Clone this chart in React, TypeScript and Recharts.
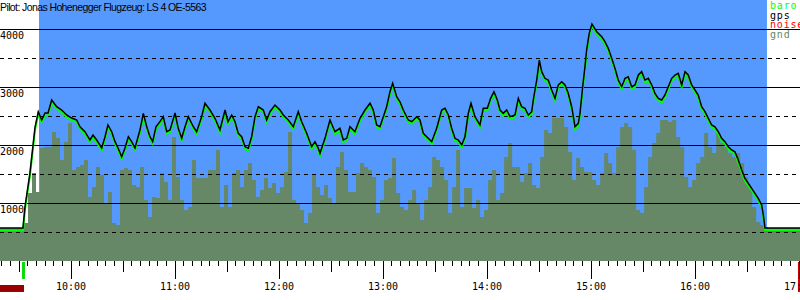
import React from 'react';
import { ComposedChart, Line, Area, XAxis, YAxis, ReferenceLine, ReferenceArea } from 'recharts';

// Flight track: time (decimal hours) with GPS and barometric altitude (m)
const trackTime = [
  9.317, 9.529, 9.538, 9.557, 9.605, 9.654, 9.685, 9.718, 9.750, 9.779,
  9.814, 9.862, 9.910, 9.958, 10.006, 10.055, 10.086, 10.134, 10.182, 10.211,
  10.247, 10.295, 10.327, 10.355, 10.391, 10.423, 10.452, 10.487, 10.519, 10.551,
  10.583, 10.615, 10.663, 10.695, 10.728, 10.759, 10.785, 10.817, 10.855, 10.887,
  10.920, 10.952, 11.000, 11.031, 11.064, 11.096, 11.128, 11.176, 11.208, 11.256,
  11.288, 11.336, 11.384, 11.432, 11.481, 11.509, 11.545, 11.577, 11.608, 11.641,
  11.673, 11.705, 11.737, 11.769, 11.801, 11.849, 11.881, 11.913, 11.961, 12.009,
  12.041, 12.089, 12.137, 12.185, 12.218, 12.266, 12.314, 12.346, 12.378, 12.394,
  12.442, 12.490, 12.538, 12.586, 12.618, 12.651, 12.682, 12.730, 12.779, 12.827,
  12.875, 12.906, 12.939, 12.971, 13.003, 13.035, 13.067, 13.093, 13.131, 13.163,
  13.195, 13.243, 13.276, 13.324, 13.355, 13.387, 13.420, 13.468, 13.516, 13.564,
  13.596, 13.628, 13.660, 13.692, 13.724, 13.757, 13.788, 13.820, 13.846, 13.884,
  13.932, 13.964, 14.003, 14.035, 14.067, 14.099, 14.125, 14.156, 14.189, 14.221,
  14.269, 14.301, 14.333, 14.365, 14.397, 14.430, 14.445, 14.478, 14.503, 14.526,
  14.557, 14.589, 14.622, 14.654, 14.685, 14.718, 14.750, 14.781, 14.814, 14.846,
  14.878, 14.894, 14.920, 14.942, 14.958, 14.983, 15.009, 15.055, 15.103, 15.134,
  15.166, 15.199, 15.230, 15.262, 15.295, 15.327, 15.358, 15.391, 15.423, 15.455,
  15.487, 15.519, 15.551, 15.584, 15.615, 15.647, 15.680, 15.711, 15.743, 15.776,
  15.808, 15.839, 15.872, 15.904, 15.935, 15.968, 16.000, 16.031, 16.064, 16.096,
  16.128, 16.160, 16.192, 16.224, 16.256, 16.288, 16.320, 16.353, 16.384, 16.416,
  16.449, 16.480, 16.512, 16.545, 16.577, 16.608, 16.641, 16.657, 16.673, 17.010,
];

const gpsAlt = [
  569, 569, 569, 931, 1517, 2310, 2574, 2431, 2552, 2552,
  2776, 2660, 2603, 2517, 2465, 2431, 2315, 2229, 2086, 2172,
  2086, 1948, 2143, 2345, 2229, 2057, 1948, 1798, 1948, 2143,
  2057, 1948, 2258, 2546, 2315, 2143, 2057, 2315, 2402, 2488,
  2229, 2258, 2552, 2288, 2115, 2315, 2488, 2315, 2229, 2488,
  2719, 2603, 2460, 2258, 2603, 2402, 2517, 2402, 2202, 2143,
  1971, 1943, 2143, 2488, 2660, 2603, 2431, 2574, 2689, 2603,
  2517, 2431, 2315, 2574, 2402, 2202, 1971, 2057, 1943, 1857,
  2115, 2431, 2229, 2288, 2086, 2115, 2315, 2229, 2460, 2603,
  2719, 2603, 2345, 2315, 2488, 2660, 2919, 3064, 2833, 2746,
  2603, 2431, 2402, 2488, 2431, 2202, 2143, 2057, 2288, 2603,
  2633, 2517, 2288, 2115, 2086, 2000, 2143, 2546, 2719, 2488,
  2345, 2633, 2633, 2805, 2919, 2776, 2603, 2546, 2603, 2488,
  2517, 2805, 2660, 2633, 2517, 2574, 2776, 3120, 3465, 3264,
  3150, 3120, 2948, 2805, 3034, 3091, 3034, 2891, 2660, 2315,
  2374, 2546, 3005, 3350, 3638, 3926, 4086, 3953, 3867, 3781,
  3667, 3495, 3322, 3120, 3005, 3150, 3177, 3005, 3034, 3207,
  3264, 3120, 3150, 3034, 2891, 2805, 2776, 2862, 3005, 3150,
  3207, 3236, 3034, 3264, 3207, 3034, 2948, 2862, 2660, 2574,
  2460, 2345, 2315, 2229, 2115, 2057, 1971, 1914, 1884, 1741,
  1569, 1426, 1340, 1253, 1167, 1081, 965, 793, 569, 569,
];

const baroAlt = [
  526, 526, 526, 880, 1470, 2260, 2530, 2390, 2510, 2515,
  2730, 2625, 2565, 2480, 2425, 2395, 2280, 2190, 2050, 2135,
  2045, 1910, 2100, 2305, 2190, 2020, 1910, 1760, 1905, 2100,
  2020, 1915, 2215, 2505, 2280, 2105, 2020, 2270, 2360, 2450,
  2195, 2220, 2510, 2250, 2080, 2270, 2450, 2280, 2190, 2445,
  2680, 2570, 2420, 2220, 2560, 2365, 2480, 2365, 2165, 2105,
  1935, 1900, 2100, 2445, 2620, 2570, 2395, 2535, 2650, 2565,
  2480, 2395, 2275, 2530, 2365, 2165, 1935, 2020, 1905, 1815,
  2075, 2390, 2190, 2250, 2050, 2075, 2275, 2190, 2420, 2565,
  2680, 2565, 2305, 2280, 2450, 2620, 2875, 3020, 2795, 2705,
  2565, 2395, 2365, 2450, 2395, 2165, 2105, 2020, 2250, 2565,
  2595, 2480, 2250, 2075, 2050, 1960, 2105, 2505, 2680, 2450,
  2305, 2595, 2595, 2765, 2880, 2740, 2565, 2505, 2565, 2450,
  2480, 2765, 2620, 2595, 2480, 2535, 2730, 3075, 3420, 3225,
  3110, 3080, 2910, 2765, 2995, 3050, 2995, 2850, 2620, 2275,
  2330, 2500, 2960, 3300, 3590, 3880, 4045, 3915, 3825, 3740,
  3625, 3455, 3285, 3080, 2965, 3110, 3140, 2965, 2995, 3165,
  3225, 3080, 3110, 2995, 2850, 2765, 2735, 2820, 2965, 3110,
  3165, 3195, 2995, 3225, 3165, 2995, 2910, 2820, 2620, 2535,
  2420, 2305, 2275, 2190, 2075, 2020, 1930, 1875, 1845, 1700,
  1530, 1385, 1300, 1215, 1125, 1040, 925, 750, 534, 534,
];

// Terrain elevation below the track, sampled at a fixed interval
const gndStartHour = 9.317;
const gndStepSeconds = 138.5;
const gndAlt = [
  569, 569, 569, 569, 569,
  569, 655, 1172, 1517, 1190, 1948, 1965, 1965, 2224, 2121,
  1741, 2052, 2379, 1569, 1621, 1655, 1741, 1103, 1276, 1621,
  1483, 1000, 1190, 655, 621, 1569, 1603, 1569, 1310, 1276,
  1621, 1052, 759, 1103, 1086, 1517, 1362, 1052, 2138, 1448,
  1052, 879, 931, 1741, 1431, 1431, 1431, 1569, 1569, 1914,
  931, 1310, 931, 1517, 1569, 1276, 1569, 1690, 1396, 1103,
  1224, 1431, 1259, 1345, 1172, 1276, 1534, 2224, 1052, 1000,
  879, 655, 828, 1483, 1276, 1138, 1310, 1086, 1000, 1621,
  1879, 1569, 1190, 1190, 1517, 1690, 1621, 1569, 1448, 828,
  1052, 1396, 1431, 1776, 1172, 931, 879, 1052, 1224, 1000,
  707, 1052, 1276, 1793, 1741, 1621, 1396, 828, 1276, 1914,
  931, 1259, 1259, 914, 1052, 759, 879, 1396, 1569, 1052,
  1172, 1793, 2034, 1621, 1621, 1362, 1517, 1690, 1310, 1259,
  1793, 2258, 2207, 2465, 2465, 2465, 2310, 1879, 1396, 1776,
  1621, 1534, 1534, 1396, 1310, 1517, 1862, 1690, 1517, 1965,
  2310, 2379, 2310, 1914, 879, 828, 1276, 1793, 2034, 2207,
  2431, 2431, 2396, 2431, 2138, 1965, 1448, 1276, 1396, 1690,
  1793, 2207, 1965, 1862, 2207, 2034, 1965, 1862, 1793, 1862,
  1690, 1448, 1276, 931, 672, 621, 586, 569,
  569, 569, 569, 569, 569, 569, 569, 569,
];

const solidLevels = [1000, 2000, 3000, 4000];
const dashedLevels = [500, 1500, 2500, 3500];
const altLabels = [1000, 2000, 3000, 4000];
const altDomain = [0, 4500];
const timeDomain = [9.317, 17.0096];
const tickStartMin = 560;
const tickEndMin = 1020;
const tickEveryMin = 5;

const skyWindow = { from: 9.692, to: 16.692 };
const takeoffMark = { from: 9.529, to: 9.557 };
const logBar = { from: 9.317, to: 9.548 };
const endMark = { from: 16.99, to: 17.02 };

const title = 'Pilot: Jonas Hohenegger Flugzeug: LS 4 OE-5563';
const legendItems = [
  { name: 'baro', color: '#00ff00' },
  { name: 'gps', color: '#000000' },
  { name: 'noise', color: '#ff0000' },
  { name: 'gnd', color: '#668866' },
];

const trackData = trackTime.map((h, i) => ({ h, gps: gpsAlt[i], baro: baroAlt[i] }));
const gndData = gndAlt.map((v, i) => ({ h: gndStartHour + (i * gndStepSeconds) / 3600, gnd: v }));
const timeTicks: number[] = [];
for (let m = tickStartMin; m <= tickEndMin; m += tickEveryMin) timeTicks.push(m / 60);

const MONO = '"DejaVu Sans Mono", monospace';

const TimeTick = (props: any) => {
  const { x, y, payload } = props;
  const mins = Math.round(payload.value * 60);
  const isHour = mins % 60 === 0;
  const isHalf = mins % 30 === 0;
  const len = isHour ? 18 : isHalf ? 11 : 5;
  return (
    <g>
      <line x1={x} x2={x} y1={y} y2={y + len} stroke="#000" strokeWidth={1} shapeRendering="crispEdges" />
      {isHour && (
        <text x={x} y={y + 29} textAnchor="middle" fontFamily={MONO} fontSize={10} fill="#000">
          {`${mins / 60}:00`}
        </text>
      )}
    </g>
  );
};

const AltTick = (props: any) => {
  const { y, payload } = props;
  return (
    <text x={0} y={y + 10} textAnchor="start" fontFamily={MONO} fontSize={10} fill="#000">
      {payload.value}
    </text>
  );
};

export default function App() {
  return (
    <div style={{ position: 'absolute', left: 0, top: 0, width: 800, height: 300, background: '#fff' }}>
      <ComposedChart width={800} height={300} margin={{ top: 0, right: 0, bottom: 0, left: 0 }}>
        <XAxis
          type="number"
          dataKey="h"
          domain={timeDomain}
          allowDataOverflow
          ticks={timeTicks}
          interval={0}
          tick={<TimeTick />}
          tickLine={false}
          axisLine={false}
          tickSize={0}
          tickMargin={0}
          height={39}
        />
        <YAxis
          type="number"
          domain={altDomain}
          allowDataOverflow
          ticks={altLabels}
          interval={0}
          tick={<AltTick />}
          tickLine={false}
          axisLine={false}
          tickSize={0}
          tickMargin={0}
          mirror
          width={40}
          zIndex={700}
        />
        <ReferenceArea
          x1={skyWindow.from}
          x2={skyWindow.to}
          y1={altDomain[0]}
          y2={altDomain[1]}
          fill="#5599ff"
          fillOpacity={1}
          stroke="none"
          zIndex={10}
        />
        <Area
          data={gndData}
          dataKey="gnd"
          type="stepAfter"
          fill="#668866"
          fillOpacity={1}
          stroke="none"
          dot={false}
          activeDot={false}
          isAnimationActive={false}
          baseValue={0}
          zIndex={20}
        />
        {dashedLevels.map((v) => (
          <ReferenceLine key={'d' + v} y={v} stroke="#000" strokeWidth={1} strokeDasharray="4 4" shapeRendering="crispEdges" zIndex={30} />
        ))}
        {solidLevels.map((v) => (
          <ReferenceLine key={'s' + v} y={v} stroke="#000" strokeWidth={1} shapeRendering="crispEdges" zIndex={30} />
        ))}
        <Line
          data={trackData}
          dataKey="baro"
          type="linear"
          stroke="#00ff00"
          strokeWidth={2}
          dot={false}
          activeDot={false}
          isAnimationActive={false}
          zIndex={40}
        />
        <Line
          data={trackData}
          dataKey="gps"
          type="linear"
          stroke="#000000"
          strokeWidth={1.5}
          dot={false}
          activeDot={false}
          isAnimationActive={false}
          zIndex={50}
        />
        <ReferenceArea x1={takeoffMark.from} x2={takeoffMark.to} y1={-17} y2={-310} fill="#00dd00" fillOpacity={1} stroke="none" ifOverflow="visible" zIndex={600} />
        <ReferenceArea x1={logBar.from} x2={logBar.to} y1={-414} y2={-534} fill="#990000" fillOpacity={1} stroke="none" ifOverflow="visible" zIndex={600} />
        <ReferenceArea x1={endMark.from} x2={endMark.to} y1={-17} y2={-534} fill="#cc0000" fillOpacity={1} stroke="none" ifOverflow="visible" zIndex={600} />
      </ComposedChart>
      <svg width={800} height={300} style={{ position: 'absolute', left: 0, top: 0, pointerEvents: 'none' }}>
        <text x={0} y={11} fontFamily='"Liberation Sans", Arial, sans-serif' fontSize={10.5} letterSpacing={-0.6} fill="#000">
          {title}
        </text>
        {legendItems.map((it, i) => (
          <text key={it.name} x={770} y={9 + i * 9.5} fontFamily={MONO} fontSize={10} letterSpacing={0.8} fill={it.color}>
            {it.name}
          </text>
        ))}
      </svg>
    </div>
  );
}
